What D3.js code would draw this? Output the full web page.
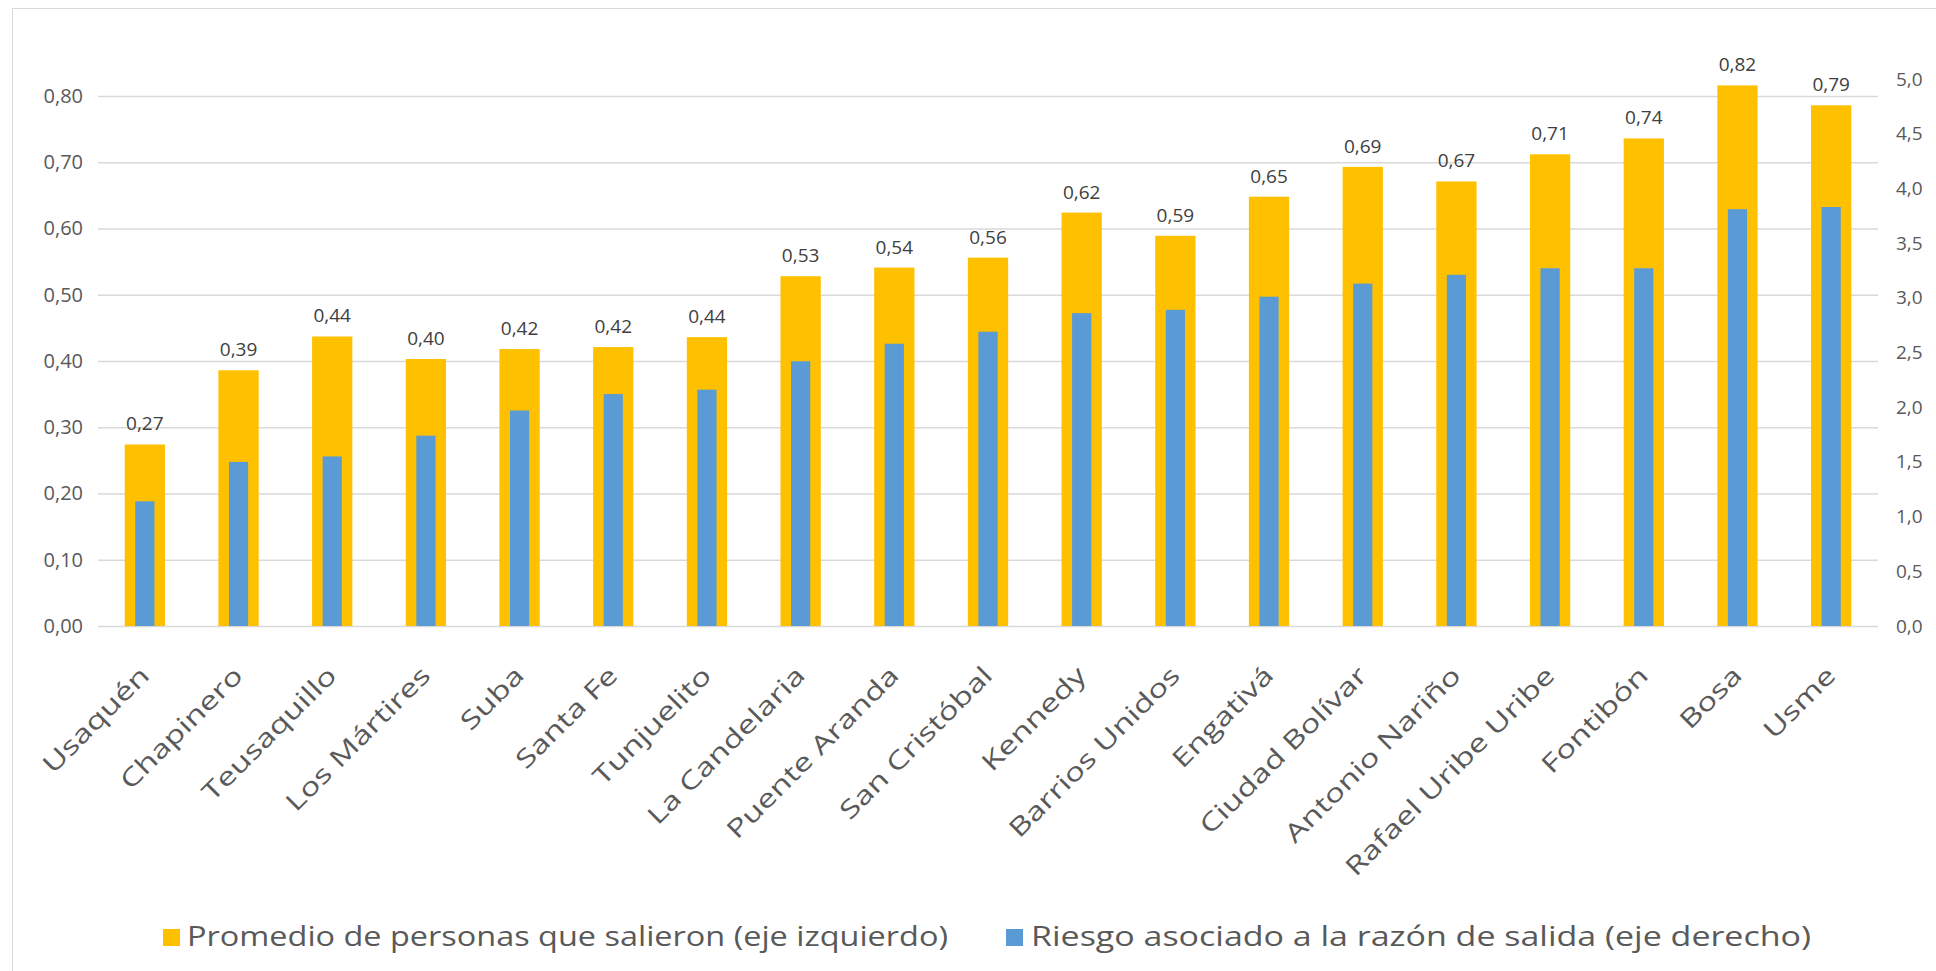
<!DOCTYPE html>
<html>
<head>
<meta charset="utf-8">
<script src="https://cdn.jsdelivr.net/npm/d3@7"></script>
<style>
  html, body { margin: 0; padding: 0; background: #ffffff; }
  svg { display: block; }
  text { font-family: "Open Sans", "Lato", sans-serif; }
</style>
</head>
<body>
<script>
// ---- data ----
const categories = ["Usaquén","Chapinero","Teusaquillo","Los Mártires","Suba","Santa Fe","Tunjuelito","La Candelaria","Puente Aranda","San Cristóbal","Kennedy","Barrios Unidos","Engativá","Ciudad Bolívar","Antonio Nariño","Rafael Uribe Uribe","Fontibón","Bosa","Usme"];
const promedio = [0.274, 0.386, 0.437, 0.403, 0.418, 0.421, 0.436, 0.528, 0.541, 0.556, 0.624, 0.589, 0.648, 0.693, 0.671, 0.712, 0.736, 0.816, 0.786];
const riesgo = [1.14, 1.50, 1.55, 1.74, 1.97, 2.12, 2.16, 2.42, 2.58, 2.69, 2.86, 2.89, 3.01, 3.13, 3.21, 3.27, 3.27, 3.81, 3.83];
const leftTicks = [0, 0.1, 0.2, 0.3, 0.4, 0.5, 0.6, 0.7, 0.8];
const rightTicks = [0, 0.5, 1, 1.5, 2, 2.5, 3, 3.5, 4, 4.5, 5];
const seriesNames = ["Promedio de personas que salieron (eje izquierdo)", "Riesgo asociado a la razón de salida (eje derecho)"];
const colors = ["#FFC000", "#5B9BD5"];

// ---- layout ----
const W = 1936, H = 971;
const plotLeft = 98, plotRight = 1878, plotBottom = 626;

const svg = d3.select("body").append("svg").attr("width", W).attr("height", H);
svg.append("rect").attr("x", 0).attr("y", 0).attr("width", W).attr("height", H).attr("fill", "#fff");
svg.append("rect").attr("x", 12.5).attr("y", 8.5).attr("width", W).attr("height", H)
  .attr("fill", "none").attr("stroke", "#d9d9d9").attr("stroke-width", 1);

const x = d3.scaleBand().domain(categories).range([plotLeft, plotRight]).padding(0);
const yL = d3.scaleLinear().domain([0, 0.8]).range([plotBottom, 96]);
const yR = d3.scaleLinear().domain([0, 5]).range([plotBottom, 79]);

const commaFmt = f => v => d3.format(f)(v).replace(".", ",");

// left axis + gridlines
const gL = svg.append("g").attr("transform", `translate(${plotLeft},0)`)
  .call(d3.axisLeft(yL).tickValues(leftTicks).tickFormat(commaFmt(".2f"))
    .tickSize(-(plotRight - plotLeft)).tickPadding(15));
gL.select(".domain").remove();
gL.selectAll(".tick line").attr("stroke", "#d9d9d9").attr("stroke-width", 1.3);
gL.selectAll(".tick text").attr("fill", "#595959").style("font-size", "20px");

// right axis
const gR = svg.append("g").attr("transform", `translate(${plotRight},0)`)
  .call(d3.axisRight(yR).tickValues(rightTicks).tickFormat(commaFmt(".1f"))
    .tickSize(0).tickPadding(18));
gR.select(".domain").remove();
gR.selectAll(".tick text").attr("fill", "#595959").style("font-size", "19px");

// bars
const bw = x.bandwidth();
const yellowW = bw * 0.43, blueW = bw * 0.205;
svg.append("g").selectAll("rect").data(categories).join("rect")
  .attr("x", (d) => x(d) + (bw - yellowW) / 2)
  .attr("y", (d, i) => yL(promedio[i]))
  .attr("width", yellowW)
  .attr("height", (d, i) => plotBottom - yL(promedio[i]))
  .attr("fill", colors[0]);
svg.append("g").selectAll("rect").data(categories).join("rect")
  .attr("x", (d) => x(d) + (bw - blueW) / 2)
  .attr("y", (d, i) => yR(riesgo[i]))
  .attr("width", blueW)
  .attr("height", (d, i) => plotBottom - yR(riesgo[i]))
  .attr("fill", colors[1]);

// value labels
svg.append("g").selectAll("text").data(categories).join("text")
  .attr("x", d => x(d) + bw / 2)
  .attr("y", (d, i) => yL(promedio[i]) - 14)
  .attr("text-anchor", "middle")
  .attr("fill", "#404040")
  .style("font-size", "19px")
  .text((d, i) => commaFmt(".2f")(promedio[i]));

// x axis labels (wide geometric look: stretch horizontally)
const gX = svg.append("g").attr("transform", `translate(0,${plotBottom})`)
  .call(d3.axisBottom(x).tickSize(0).tickPadding(0));
gX.select(".domain").remove();
gX.selectAll(".tick text")
  .attr("fill", "#595959")
  .style("font-size", "25px")
  .attr("text-anchor", "end")
  .attr("dy", 0)
  .attr("y", 0)
  .attr("transform", "translate(6,51) rotate(-45)")
  .each(function () {
    const len = this.getComputedTextLength();
    d3.select(this).attr("textLength", len * 1.33).attr("lengthAdjust", "spacingAndGlyphs");
  });

// legend
const legend = [
  { x: 163, tx: 187, len: 761 },
  { x: 1006, tx: 1031, len: 780 }
];
legend.forEach((l, i) => {
  svg.append("rect").attr("x", l.x).attr("y", 929).attr("width", 17).attr("height", 17).attr("fill", colors[i]);
  svg.append("text").attr("x", l.tx).attr("y", 946).attr("fill", "#595959")
    .style("font-size", "27px")
    .attr("textLength", l.len).attr("lengthAdjust", "spacingAndGlyphs")
    .text(seriesNames[i]);
});
</script>
</body>
</html>
